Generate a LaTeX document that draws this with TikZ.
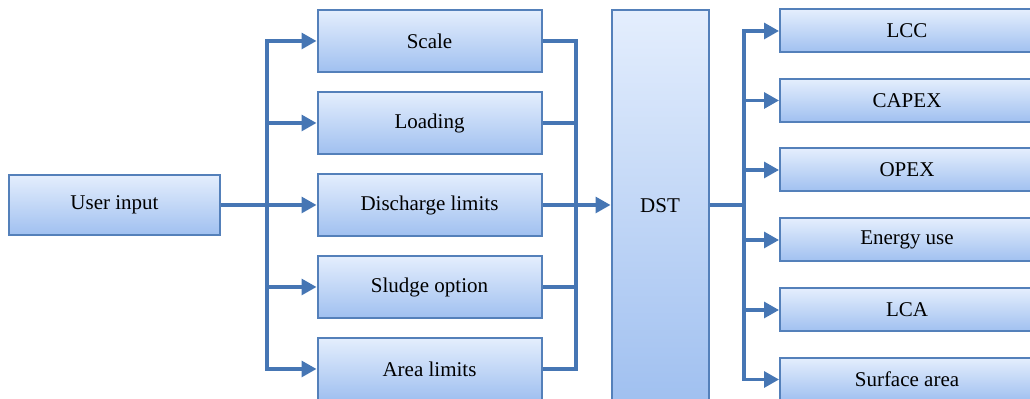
\documentclass[tikz,border=0pt]{standalone}
\usepackage{fontspec}
\setmainfont{Liberation Serif}
\usetikzlibrary{arrows.meta}
\definecolor{boxline}{RGB}{84,128,186}
\definecolor{linkblue}{RGB}{70,118,180}
\definecolor{boxtop}{RGB}{228,238,253}
\definecolor{boxbottom}{RGB}{160,192,240}
\tikzset{
  panel/.style={draw=boxline, line width=1pt, top color=boxtop, bottom color=boxbottom,
    inner sep=0pt, font=\fontsize{10.5}{12}\selectfont},
  link/.style={draw=linkblue, line width=1.6pt, -{Triangle[length=7.5pt,width=8pt]}},
  wire/.style={draw=linkblue, line width=1.6pt}
}

\begin{document}
\begin{tikzpicture}[x=0.5pt,y=-0.5pt]
\useasboundingbox (0,0) rectangle (1030,399);

% Input side
\node[panel, minimum width=105.5pt, minimum height=30pt] (user) at (114.5,205) {User input};

% Decision support tool
\node[panel, minimum width=48.5pt, minimum height=196pt] (dst) at (660,206) {DST};

% Bus points
\coordinate (inbus) at (267,205);
\coordinate (midbus) at (576,205);
\coordinate (outbus) at (744,205);

% Input parameters
\foreach \name/\txt/\ypos in
{
  scale/Scale/41, loading/Loading/123, discharge/Discharge limits/205,
  sludge/Sludge option/287, area/Area limits/369
}
{
  \node[panel, minimum width=112pt, minimum height=31pt] (\name) at (429.5,\ypos) {\txt};
  \draw[link] (inbus) |- (\name.west);
  \draw[wire] (\name.east) -| (midbus);
}
\draw[wire] (user.east) -- (inbus);
\draw[link] (midbus) -- (midbus -| dst.west);

% Outputs
\draw[wire] (outbus -| dst.east) -- (outbus);
\foreach \name/\txt/\ypos in
{
  lcc/LCC/31, capex/CAPEX/100.5, opex/OPEX/170, energy/Energy use/240,
  lca/LCA/310, surface/Surface area/379.5
}
{
  \node[panel, minimum width=127pt, minimum height=21.5pt] (\name) at (907,\ypos) {\txt};
  \draw[link] (outbus) |- (\name.west);
}

\end{tikzpicture}
\end{document}
